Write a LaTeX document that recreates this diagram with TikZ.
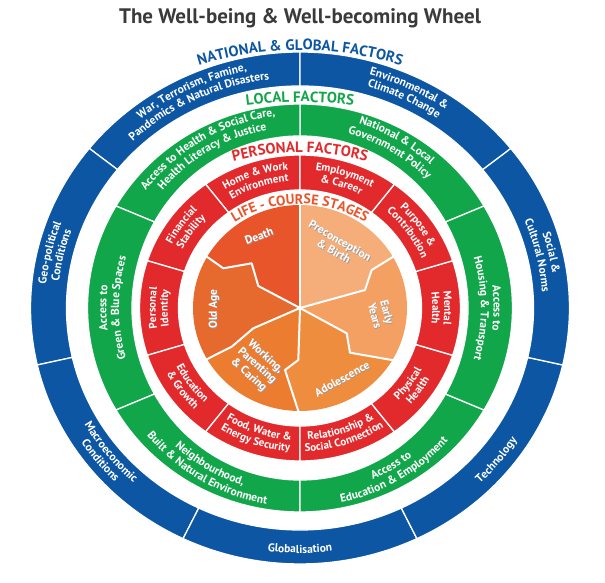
\documentclass[tikz,border=0pt]{standalone}
\usepackage{fontspec}
\setmainfont{PT Sans}
\usetikzlibrary{decorations.text}
\definecolor{cBlue}{HTML}{0C56A3}
\definecolor{cGreen}{HTML}{12A64B}
\definecolor{cRed}{HTML}{E22A2D}
\definecolor{cLife}{HTML}{E8552A}
\definecolor{cDeath}{HTML}{E8552A}
\definecolor{cOld}{HTML}{E6692D}
\definecolor{cWork}{HTML}{EC7D30}
\definecolor{cAdol}{HTML}{EF8D3F}
\definecolor{cEarly}{HTML}{F3A062}
\definecolor{cPre}{HTML}{F5AE7A}
\definecolor{cTitle}{HTML}{3A3A3A}
\newcommand\ftB{\fontsize{11.5}{13}\selectfont\bfseries}
\newcommand\ftG{\fontsize{11.5}{13}\selectfont\bfseries}
\newcommand\ftR{\fontsize{11}{12}\selectfont\bfseries}
\newcommand\ftH{\fontsize{15}{17}\selectfont\bfseries}
\newcommand\ftL{\fontsize{14}{16}\selectfont\bfseries}
% ring segment: color, a, b, rxi, ryi, rxo, ryo
\newcommand\rseg[7]{\filldraw[fill=#1,draw=white,line width=1.3pt]
 ({#4*cos(#2)},{#5*sin(#2)}) -- ({#6*cos(#2)},{#7*sin(#2)})
 arc[start angle=#2,end angle=#3,x radius=#6,y radius=#7]
 -- ({#4*cos(#3)},{#5*sin(#3)})
 arc[start angle=#3,end angle=#2,x radius=#4,y radius=#5] -- cycle;}
% ring text: r, yfactor, a, b, font, text
\newcommand\rtext[6]{\path[decorate,decoration={text along path,text align=center,text color=white,text={|#5|#6}}]
 ({#1*cos(#3)},{#2*#1*sin(#3)}) arc[start angle=#3,end angle=#4,x radius=#1,y radius=#2*#1];}
% header text: cx, cy, R, a, b, color, font, text
\newcommand\htext[8]{\path[decorate,decoration={text along path,text align=center,text color=#6,text={|#7|#8}}]
 ({#1+#3*cos(#4)},{#2+#3*sin(#4)}) arc[start angle=#4,end angle=#5,radius=#3];}
\tikzset{
 otxt/.style={font=\fontsize{11.5}{12.5}\selectfont\bfseries,text=white,align=center,inner sep=0pt},
 oshd/.style={otxt,text=black!40},
 ttl/.style={font=\fontsize{21}{24}\selectfont\bfseries,text=cTitle,inner sep=0pt},
 obound/.style={draw=white,line width=2pt,line join=round}
}
\newcommand\otx[5]{\node[oshd,rotate=#4] (#1s) at ({#2+0.7},{#3-0.7}) {#5};
 \node[otxt,rotate=#4] (#1) at (#2,#3) {#5};}
\begin{document}
\begin{tikzpicture}[x=1pt,y=1pt]
\useasboundingbox (0,0) rectangle (605,583);
\node[ttl] (title) at (300,565) {The Well-being \& Well-becoming Wheel};
\begin{scope}[shift={(300,275)}]
% ---------- blue ring
\foreach \a/\b in {90/141.43,141.43/192.86,192.86/244.29,244.29/295.71,295.71/347.14,347.14/398.57,38.57/90}
 {\rseg{cBlue}{\a}{\b}{233.5}{222}{269.5}{256}}
% ---------- green ring
\foreach \a/\b in {30/90,90/150,150/210,210/270,270/330,330/390}
 {\rseg{cGreen}{\a}{\b}{168}{172}{212.5}{204}}
% ---------- red ring
\foreach \a in {90,126,...,414}
 {\pgfmathsetmacro\b{\a+36}\rseg{cRed}{\a}{\b}{121.5}{118}{160.5}{153}}
% ---------- orange sectors
\begin{scope}
 \clip (0,0) -- (65,18) -- (71.7,38) -- (91.7,50.3) -- (135,74) -- (200,200) -- (0,150) -- cycle;
 \fill[cPre] (0,0) ellipse[x radius=107,y radius=103];
\end{scope}
\begin{scope}
 \clip (0,0) -- (0,150) -- (-200,200) -- (-135,74) -- (-91.7,50.3) -- (-76.7,39.7) -- (-48.3,44.7) -- (-41.7,22) -- cycle;
 \fill[cDeath] (0,0) ellipse[x radius=107,y radius=103];
\end{scope}
\begin{scope}
 \clip (0,0) -- (-41.7,22) -- (-48.3,44.7) -- (-76.7,39.7) -- (-91.7,50.3) -- (-135,74) -- (-250,0) -- (-135,-74) -- (-93.3,-51.3) -- (-68.3,-38.7) -- (-46.7,-20.3) -- cycle;
 \fill[cOld] (0,0) ellipse[x radius=107,y radius=103];
\end{scope}
\begin{scope}
 \clip (0,0) -- (-46.7,-20.3) -- (-68.3,-38.7) -- (-93.3,-51.3) -- (-135,-74) -- (-200,-200) -- (-2,-150) -- (-1.7,-103) -- (-15,-62) -- (-1.7,-52) -- cycle;
 \fill[cWork] (0,0) ellipse[x radius=107,y radius=103];
\end{scope}
\begin{scope}
 \clip (0,0) -- (-1.7,-52) -- (-15,-62) -- (-1.7,-103) -- (-2,-150) -- (200,-200) -- (135,-74) -- (91.7,-52) -- (50,-44.7) -- (46.7,-25.3) -- cycle;
 \fill[cAdol] (0,0) ellipse[x radius=107,y radius=103];
\end{scope}
\begin{scope}
 \clip (0,0) -- (46.7,-25.3) -- (50,-44.7) -- (91.7,-52) -- (135,-74) -- (250,0) -- (135,74) -- (91.7,50.3) -- (71.7,38) -- (65,18) -- cycle;
 \fill[cEarly] (0,0) ellipse[x radius=107,y radius=103];
\end{scope}
\draw[obound] (0,0) -- (0,104);
\draw[obound] (0,0) -- (65,18) -- (71.7,38) -- (91.7,50.3) -- (94,51.6);
\draw[obound] (0,0) -- (-41.7,22) -- (-48.3,44.7) -- (-76.7,39.7) -- (-91.7,50.3) -- (-94,51.6);
\draw[obound] (0,0) -- (-46.7,-20.3) -- (-68.3,-38.7) -- (-93.3,-51.3) -- (-95,-52.3);
\draw[obound] (0,0) -- (-1.7,-52) -- (-15,-62) -- (-1.7,-103) -- (-1.7,-105);
\draw[obound] (0,0) -- (46.7,-25.3) -- (50,-44.7) -- (91.7,-52) -- (94,-52.4);
% ---------- headers
\htext{0}{-82}{340}{120}{60}{cBlue}{\ftH}{NATIONAL {\&} GLOBAL FACTORS}
\htext{0}{-214}{420}{105}{75}{cGreen}{\ftH}{LOCAL FACTORS}
\htext{0}{-104.5}{260}{115}{65}{cRed}{\ftH}{PERSONAL FACTORS}
\htext{0}{-21}{125}{150}{30}{cLife}{\ftL}{LIFE - COURSE STAGES}
% ---------- blue texts
\rtext{255}{0.95}{141}{90}{\ftB}{War, Terrorism, Famine,}
\rtext{242.5}{0.95}{141}{90}{\ftB}{Pandemics {\&} Natural Disasters}
\rtext{255}{0.95}{192}{142}{\ftB}{Geo-political}
\rtext{242.5}{0.95}{192}{142}{\ftB}{Conditions}
\rtext{248}{0.95}{193}{244}{\ftB}{Macroeconomic}
\rtext{260.5}{0.95}{193}{244}{\ftB}{Conditions}
\rtext{258}{0.95}{245}{295}{\ftB}{Globalisation}
\rtext{258}{0.95}{296}{346}{\ftB}{Technology}
\rtext{255}{0.95}{398}{348}{\ftB}{Social {\&}}
\rtext{242.5}{0.95}{398}{348}{\ftB}{Cultural Norms}
\rtext{255}{0.95}{90}{39}{\ftB}{Environmental {\&}}
\rtext{242.5}{0.95}{90}{39}{\ftB}{Climate Change}
% ---------- green texts
\rtext{193.6}{1}{90}{30}{\ftG}{National {\&} Local}
\rtext{181}{1}{90}{30}{\ftG}{Government Policy}
\rtext{193.6}{1}{150}{90}{\ftG}{Access to Health {\&} Social Care,}
\rtext{181}{1}{150}{90}{\ftG}{Health Literacy {\&} Justice}
\rtext{193.6}{1}{210}{150}{\ftG}{Access to}
\rtext{181}{1}{210}{150}{\ftG}{Green {\&} Blue Spaces}
\rtext{186.4}{1}{210}{270}{\ftG}{Neighbourhood,}
\rtext{199}{1}{210}{270}{\ftG}{Built {\&} Natural Environment}
\rtext{186.4}{1}{270}{330}{\ftG}{Access to}
\rtext{199}{1}{270}{330}{\ftG}{Education {\&} Employment}
\rtext{193.6}{1}{390}{330}{\ftG}{Access to}
\rtext{181}{1}{390}{330}{\ftG}{Housing {\&} Transport}
% ---------- red texts
\rtext{144.4}{0.96}{126}{90}{\ftR}{Home {\&} Work}
\rtext{132.4}{0.96}{126}{90}{\ftR}{Environment}
\rtext{144.4}{0.96}{162}{126}{\ftR}{Financial}
\rtext{132.4}{0.96}{162}{126}{\ftR}{Stability}
\rtext{144.4}{0.96}{198}{162}{\ftR}{Personal}
\rtext{132.4}{0.96}{198}{162}{\ftR}{Identity}
\rtext{137.6}{0.96}{198}{234}{\ftR}{Education}
\rtext{149.6}{0.96}{198}{234}{\ftR}{{\&} Growth}
\rtext{137.6}{0.96}{234}{270}{\ftR}{Food, Water {\&}}
\rtext{149.6}{0.96}{234}{270}{\ftR}{Energy Security}
\rtext{137.6}{0.96}{270}{306}{\ftR}{Relationship {\&}}
\rtext{149.6}{0.96}{270}{306}{\ftR}{Social Connection}
\rtext{137.6}{0.96}{306}{342}{\ftR}{Physical}
\rtext{149.6}{0.96}{306}{342}{\ftR}{Health}
\rtext{144.4}{0.96}{378}{342}{\ftR}{Mental}
\rtext{132.4}{0.96}{378}{342}{\ftR}{Health}
\rtext{144.4}{0.96}{54}{18}{\ftR}{Purpose {\&}}
\rtext{132.4}{0.96}{54}{18}{\ftR}{Contribution}
\rtext{144.4}{0.96}{90}{54}{\ftR}{Employment}
\rtext{132.4}{0.96}{90}{54}{\ftR}{{\&} Career}
% ---------- orange texts
\otx{death}{-41}{72}{20}{Death}
\otx{pre}{37}{62}{-30}{Preconception\\ \& Birth}
\otx{early}{81}{-6}{-75}{Early\\Years}
\otx{adol}{42}{-71}{29}{Adolescence}
\otx{work}{-43}{-58}{-42}{Working,\\Parenting\\ \& Caring}
\otx{old}{-86}{-1}{90}{Old Age}
\end{scope}
\end{tikzpicture}
\end{document}
